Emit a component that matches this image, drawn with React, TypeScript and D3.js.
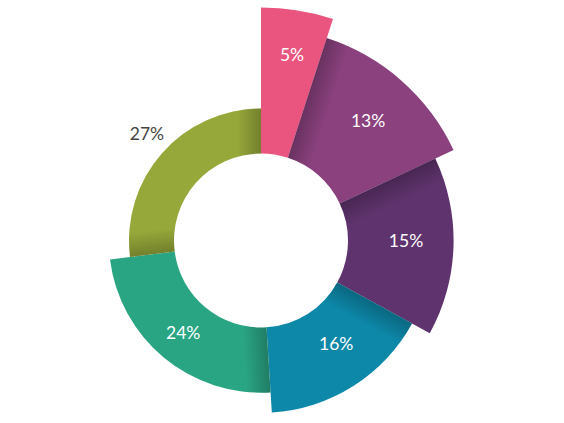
import React from "react";
import * as d3 from "d3";

const categories = ["A", "B", "C", "D", "E", "F"];
const values = [5, 13, 15, 16, 24, 27];
const labels = ["5%", "13%", "15%", "16%", "24%", "27%"];
const colors = ["#EA5580", "#8A417E", "#5F336D", "#0D88A9", "#2AA584", "#97A83A"];
const labelColors = ["#ffffff", "#ffffff", "#ffffff", "#ffffff", "#ffffff", "#444444"];

const W = 564;
const H = 423;
const CX = 261;
const CY = 240.5;
const INNER = 87;
// label placement (radius, angular offset in degrees from slice middle)
const LABEL_R = [188, 161, 145, 128, 121, 156];
const LABEL_DA = [0.5, 0.3, -1.8, -3.6, 0.4, 1.6];

export default function App() {
  const pie = d3.pie<number>().value((d) => d).sort(null);
  const arcsData = pie(values);
  const rScale = d3.scaleLinear().domain([0, values.length - 1]).range([233, 132]);
  const outer = values.map((_, i) => rScale(i));
  const arcGen = d3.arc<any>();

  const paths = arcsData.map((a, i) =>
    arcGen({ innerRadius: INNER, outerRadius: outer[i], startAngle: a.startAngle, endAngle: a.endAngle }) as string
  );

  const shadows: { id: string; path: string; x1: number; y1: number; x2: number; y2: number }[] = [];
  const n = values.length;
  for (let i = 0; i < n; i++) {
    const j = (i + 1) % n;
    const theta = arcsData[i].endAngle % (2 * Math.PI);
    const smaller = outer[i] < outer[j] ? i : j;
    const dirSign = smaller === j ? 1 : -1;
    const rm = (INNER + outer[smaller]) / 2;
    const px = Math.sin(theta) * rm;
    const py = -Math.cos(theta) * rm;
    const nx = Math.cos(theta) * dirSign;
    const ny = Math.sin(theta) * dirSign;
    shadows.push({
      id: `sh${i}`,
      path: paths[smaller],
      x1: px,
      y1: py,
      x2: px + nx * 24,
      y2: py + ny * 24,
    });
  }

  return (
    <svg width={W} height={H} style={{ position: "absolute", left: 0, top: 0, background: "#fff" }}>
      <defs>
        {shadows.map((s) => (
          <linearGradient key={s.id} id={s.id} gradientUnits="userSpaceOnUse" x1={s.x1} y1={s.y1} x2={s.x2} y2={s.y2}>
            <stop offset="0" stopColor="#000" stopOpacity={0.24} />
            <stop offset="1" stopColor="#000" stopOpacity={0} />
          </linearGradient>
        ))}
      </defs>
      <g transform={`translate(${CX},${CY})`}>
        {paths.map((p, i) => (
          <path key={categories[i]} d={p} fill={colors[i]} />
        ))}
        {shadows.map((s) => (
          <path key={"o" + s.id} d={s.path} fill={`url(#${s.id})`} />
        ))}
        {arcsData.map((a, i) => {
          const mid = (a.startAngle + a.endAngle) / 2 + (LABEL_DA[i] * Math.PI) / 180;
          const x = Math.sin(mid) * LABEL_R[i];
          const y = -Math.cos(mid) * LABEL_R[i];
          return (
            <text
              key={"t" + i}
              x={x}
              y={y}
              dy="0.36em"
              textAnchor="middle"
              fontFamily="Lato, 'Open Sans', sans-serif"
              fontSize={17.5}
              fill={labelColors[i]}
            >
              {labels[i]}
            </text>
          );
        })}
      </g>
    </svg>
  );
}
